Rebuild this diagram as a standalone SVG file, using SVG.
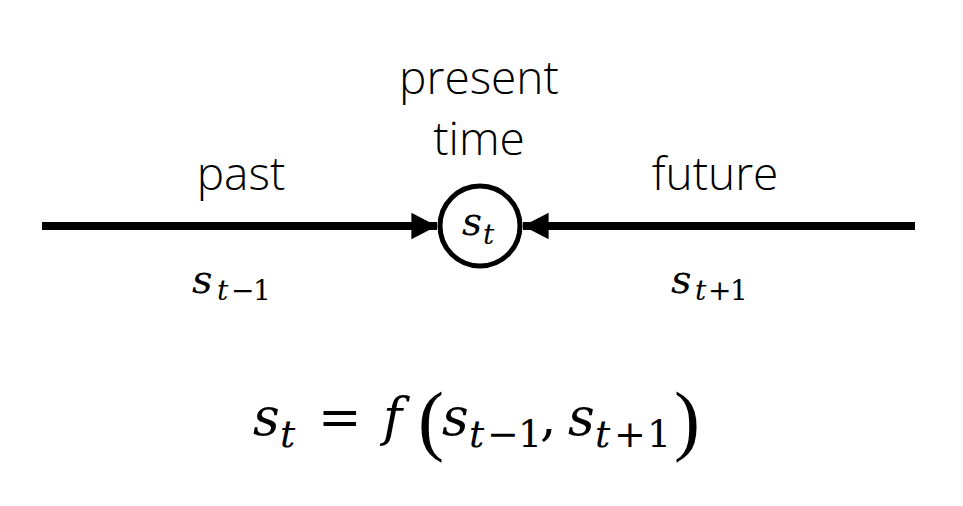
<svg xmlns="http://www.w3.org/2000/svg" width="963" height="506" viewBox="0 0 963 506">
<style>
.lbl{font-family:"Open Sans","Noto Sans",sans-serif;font-weight:300;font-size:46px;fill:#000;text-anchor:middle}
.m{font-family:"DejaVu Serif","Liberation Serif",serif;font-style:italic;fill:#000}
.r{font-style:normal}
.p{font-family:"Liberation Serif",serif;font-style:normal}
.ln{stroke:#000;stroke-width:8;fill:none}
</style>
<defs>
<marker id="ah" markerWidth="4" markerHeight="4" refX="3.2" refY="1.65" orient="auto" markerUnits="strokeWidth">
<path d="M0,0 L3.2,1.65 L0,3.3 z" fill="#000"/>
</marker>
</defs>
<rect width="963" height="506" fill="#fff"/>
<g id="connectors">
<line class="ln" x1="42" y1="226" x2="437" y2="226" marker-end="url(#ah)"/>
<line class="ln" x1="915" y1="226" x2="523" y2="226" marker-end="url(#ah)"/>
</g>
<g id="node-st">
<circle cx="480" cy="226" r="40" fill="#fff" stroke="#000" stroke-width="5"/>
<text class="m" font-size="39"><tspan x="462" y="235">s</tspan><tspan x="483" y="244" font-size="28">t</tspan></text>
</g>
<g id="label-present">
<text class="lbl" x="479" y="94">present</text>
<text class="lbl" x="479" y="155">time</text>
</g>
<g id="label-past"><text class="lbl" x="241" y="190">past</text></g>
<g id="label-future"><text class="lbl" x="715" y="190">future</text></g>
<g id="label-sm1"><text class="m" font-size="40"><tspan x="192" y="293">s</tspan><tspan x="217" y="300" font-size="28">t</tspan><tspan class="r" x="231" y="300" font-size="28">−</tspan><tspan class="r" x="253" y="300" font-size="28">1</tspan></text></g>
<g id="label-sp1"><text class="m" font-size="40"><tspan x="671" y="293">s</tspan><tspan x="695" y="300" font-size="28">t</tspan><tspan class="r" x="708" y="300" font-size="28">+</tspan><tspan class="r" x="730" y="300" font-size="28">1</tspan></text></g>
<g id="equation"><text class="m" font-size="52"><tspan x="253" y="435">s</tspan><tspan x="280" y="447" font-size="38">t</tspan><tspan class="r" x="318" y="435">=</tspan><tspan x="383" y="435">f</tspan><tspan class="p" x="418" y="446" font-size="78">(</tspan><tspan x="442" y="435">s</tspan><tspan x="469" y="447" font-size="38">t</tspan><tspan class="r" x="487" y="447" font-size="38">−</tspan><tspan class="r" x="518" y="447" font-size="38">1</tspan><tspan class="r" x="540" y="435">,</tspan><tspan x="568" y="435">s</tspan><tspan x="595" y="447" font-size="38">t</tspan><tspan class="r" x="614" y="447" font-size="38">+</tspan><tspan class="r" x="647" y="447" font-size="38">1</tspan><tspan class="p" x="674" y="446" font-size="78">)</tspan></text></g>
</svg>
